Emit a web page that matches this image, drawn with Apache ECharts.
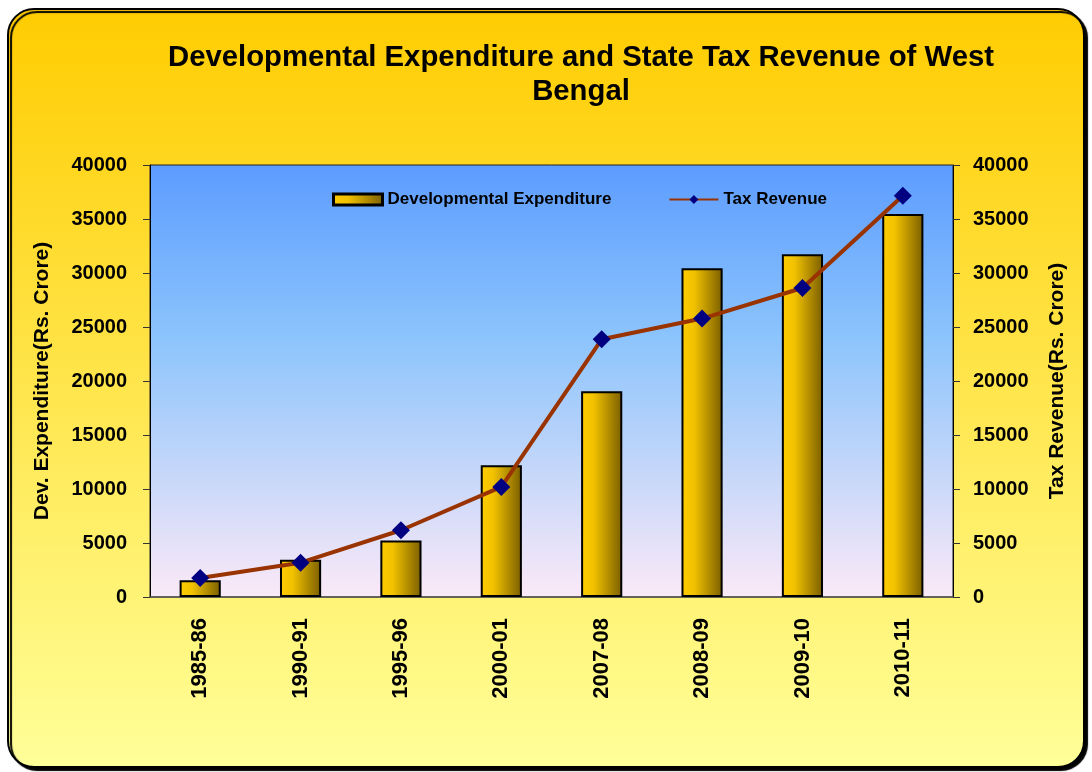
<!DOCTYPE html>
<html>
<head>
<meta charset="utf-8">
<title>Developmental Expenditure and State Tax Revenue of West Bengal</title>
<script src="https://cdn.jsdelivr.net/npm/echarts@6/dist/echarts.min.js"></script>
<style>
  html, body { margin: 0; padding: 0; background: #fff; }
  #chart { width: 1092px; height: 772px; }
</style>
</head>
<body>
<div id="chart"></div>
<script>
const years = ['1985-86', '1990-91', '1995-96', '2000-01', '2007-08', '2008-09', '2009-10', '2010-11']
const devExpenditure = [1550, 3460, 5220, 12190, 19050, 30430, 31730, 35460]
const taxRevenue = [1760, 3180, 6180, 10190, 23860, 25780, 28610, 37160]

const font = 'Liberation Sans, Arial, sans-serif'

function valueAxis (name, gap, margin) {
  return {
    type: 'value',
    name: name,
    nameLocation: 'middle',
    nameGap: gap,
    nameTextStyle: { fontFamily: font, fontWeight: 'bold', fontSize: 21, color: '#000' },
    min: 0,
    max: 40000,
    interval: 5000,
    axisLine: { show: true, lineStyle: { color: '#000', width: 1 } },
    axisTick: { show: true, length: 7, lineStyle: { color: '#333' } },
    axisLabel: {
      fontFamily: font, fontWeight: 'bold', fontSize: 20, color: '#000', margin: margin,
      formatter: v => String(v)
    },
    splitLine: { show: false }
  }
}

const chart = echarts.init(document.getElementById('chart'))

chart.setOption({
  animation: false,
  graphic: [{
    type: 'rect',
    z: -10,
    shape: { x: 8, y: 9, width: 1076, height: 758, r: 26 },
    style: {
      fill: new echarts.graphic.LinearGradient(0, 0, 0, 1, [
        { offset: 0, color: '#ffcc00' },
        { offset: 1, color: '#ffff99' }
      ]),
      stroke: '#000',
      lineWidth: 2,
      shadowColor: '#000',
      shadowOffsetX: 3,
      shadowOffsetY: 3,
      shadowBlur: 1
    }
  }],
  title: {
    text: 'Developmental Expenditure and State Tax Revenue of West\nBengal',
    left: 576,
    top: 36,
    textAlign: 'center',
    textStyle: { fontFamily: font, fontWeight: 'bold', fontSize: 29.3, lineHeight: 34, color: '#000' }
  },
  legend: {
    left: 327,
    top: 186,
    itemWidth: 49,
    itemHeight: 11,
    itemGap: 57,
    textStyle: { fontFamily: font, fontWeight: 'bold', fontSize: 17, color: '#000' },
    data: [
      { name: 'Developmental Expenditure', icon: 'rect', itemStyle: { borderWidth: 3 } },
      'Tax Revenue'
    ]
  },
  grid: {
    left: 150,
    right: 139,
    top: 165,
    bottom: 175,
    show: true,
    borderColor: '#222',
    borderWidth: 1,
    backgroundColor: new echarts.graphic.LinearGradient(0, 0, 0, 1, [
      { offset: 0, color: '#5c9cff' },
      { offset: 0.4, color: '#8cc4fc' },
      { offset: 1, color: '#fbe9f7' }
    ])
  },
  xAxis: {
    type: 'category',
    data: years,
    axisLine: { lineStyle: { color: '#555', width: 1.5 } },
    axisTick: { length: 6, lineStyle: { color: '#444' } },
    axisLabel: { rotate: 90, margin: 21, fontFamily: font, fontWeight: 'bold', fontSize: 22, color: '#000' }
  },
  yAxis: [
    valueAxis('Dev. Expenditure(Rs. Crore)', 97, 23),
    valueAxis('Tax Revenue(Rs. Crore)', 94, 20)
  ],
  series: [
    {
      name: 'Developmental Expenditure',
      type: 'bar',
      yAxisIndex: 0,
      barWidth: '41%',
      data: devExpenditure,
      itemStyle: {
        color: new echarts.graphic.LinearGradient(0, 0, 1, 0, [
          { offset: 0, color: '#ffcc00' },
          { offset: 0.3, color: '#f2c200' },
          { offset: 1, color: '#7a5e00' }
        ]),
        borderColor: '#000',
        borderWidth: 2
      }
    },
    {
      name: 'Tax Revenue',
      type: 'line',
      yAxisIndex: 1,
      data: taxRevenue,
      symbol: 'diamond',
      symbolSize: 18,
      lineStyle: { color: '#993300', width: 4 },
      itemStyle: { color: '#000080' }
    }
  ]
})
</script>
</body>
</html>
